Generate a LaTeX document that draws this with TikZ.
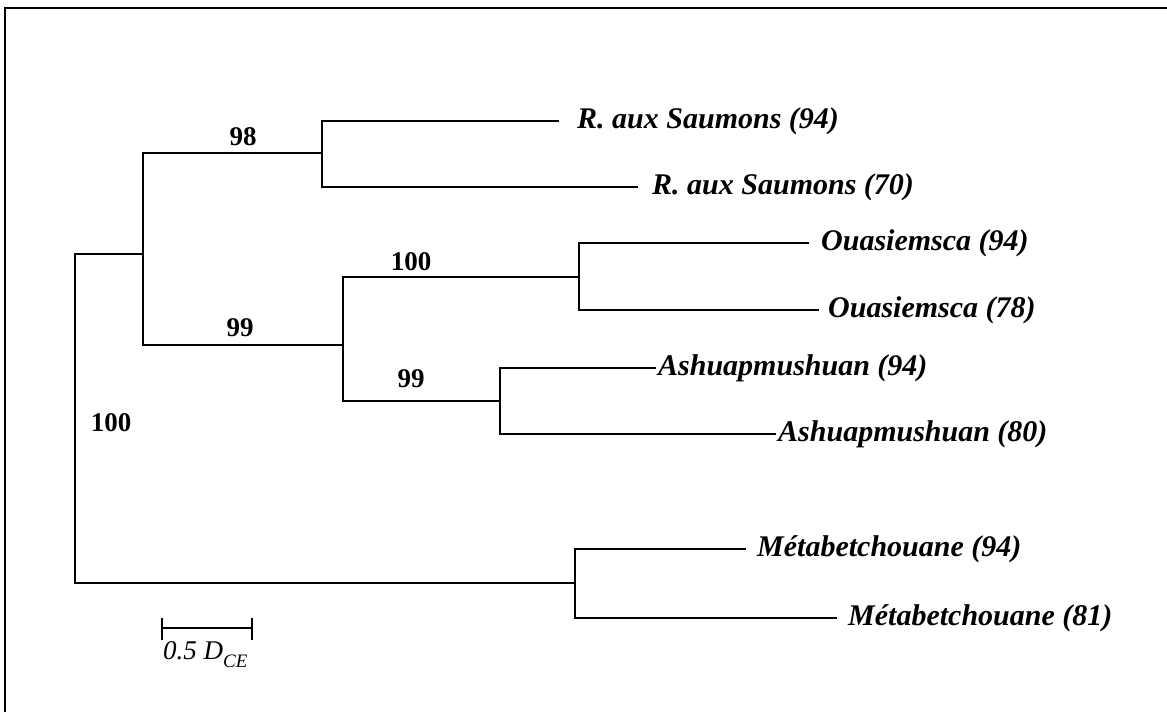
\documentclass[tikz,border=0pt]{standalone}
\usepackage{fontspec}
\setmainfont{Liberation Serif}
\begin{document}
\begin{tikzpicture}[x=1pt,y=-1pt,
  tree/.style={line width=1.8pt, line cap=rect},
  frame/.style={line width=2.8pt},
  leaf/.style={font=\fontsize{30}{36}\selectfont\bfseries\itshape, inner ysep=0pt, anchor=west},
  boot/.style={font=\fontsize{27}{32}\selectfont\bfseries, inner sep=0pt},
  scalelab/.style={font=\fontsize{27}{32}\selectfont\itshape, inner sep=0pt, anchor=west}]
\useasboundingbox (0,0) rectangle (1167,712);
\draw[frame] (5,712) -- (5,8) -- (1167,8);

% internal nodes
\coordinate (R) at (75,418);
\coordinate (A) at (143,254);
\coordinate (B) at (322,153);
\coordinate (C) at (343,345);
\coordinate (D) at (579,277);
\coordinate (E) at (500,401);
\coordinate (F) at (575,583);

% leaves
\node[leaf, inner xsep=19pt] (t1) at (558,121) {R. aux Saumons (94)};
\node[leaf, inner xsep=15pt] (t2) at (637,187) {R. aux Saumons (70)};
\node[leaf, inner xsep=13pt] (t3) at (808,243) {Ouasiemsca (94)};
\node[leaf, inner xsep=10pt] (t4) at (818,310) {Ouasiemsca (78)};
\node[leaf, inner xsep=3pt]  (t5) at (655,368) {Ashuapmushuan (94)};
\node[leaf, inner xsep=3pt]  (t6) at (775,434) {Ashuapmushuan (80)};
\node[leaf, inner xsep=12pt] (t7) at (745,549) {Métabetchouane (94)};
\node[leaf, inner xsep=12pt] (t8) at (836,618) {Métabetchouane (81)};

% branches
\draw[tree] (R) |- (A);
\draw[tree] (R) |- (F);
\draw[tree] (A) |- (B);
\draw[tree] (A) |- (C);
\draw[tree] (B) |- (t1);
\draw[tree] (B) |- (t2);
\draw[tree] (C) |- (D);
\draw[tree] (C) |- (E);
\draw[tree] (D) |- (t3);
\draw[tree] (D) |- (t4);
\draw[tree] (E) |- (t5);
\draw[tree] (E) |- (t6);
\draw[tree] (F) |- (t7);
\draw[tree] (F) |- (t8);

% bootstrap values
\node[boot] (b1) at (243,137) {98};
\node[boot] (b2) at (411,262) {100};
\node[boot] (b3) at (240,328) {99};
\node[boot] (b4) at (411,379) {99};
\node[boot] (b5) at (111,423) {100};

% scale bar
\coordinate (s1) at (162,628);
\coordinate (s2) at (252,628);
\draw[tree, line cap=butt] (s1) -- (s2);
\draw[line width=1.6pt] ([yshift=10pt]s1) -- ([yshift=-12pt]s1);
\draw[line width=1.6pt] ([yshift=10pt]s2) -- ([yshift=-12pt]s2);
\node[scalelab] (sl) at (163,655) {0.5 D\raisebox{-0.3em}{\fontsize{19}{22}\selectfont CE}};
\end{tikzpicture}
\end{document}
